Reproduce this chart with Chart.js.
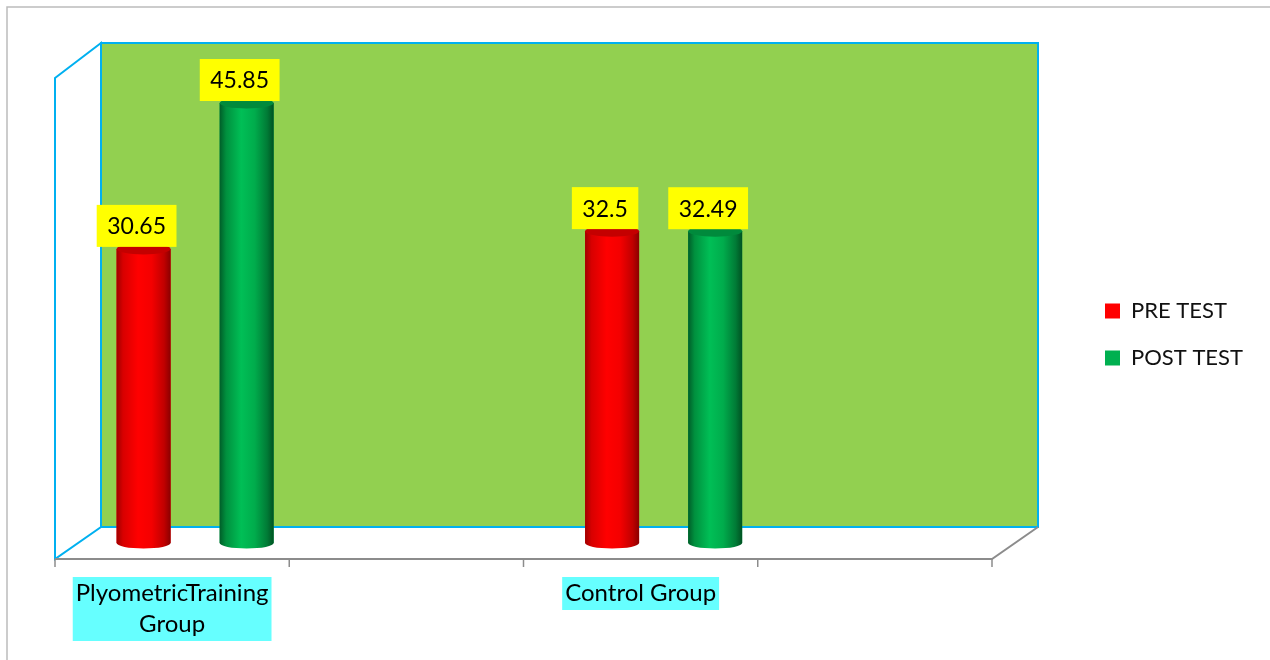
<!DOCTYPE html>
<html>
<head>
<meta charset="utf-8">
<title>Plyometric vs Control</title>
<script src="https://cdn.jsdelivr.net/npm/chart.js@4.4.0/dist/chart.umd.min.js"></script>
<style>
  html, body { margin: 0; padding: 0; background: #fff; }
  #wrap { width: 1270px; height: 660px; }
</style>
</head>
<body>
<div id="wrap"><canvas id="chart" width="1270" height="660"></canvas></div>
<script>
// chart data
const categories = [['PlyometricTraining', 'Group'], '', 'Control Group', ''];
const preTest = [30.65, null, 32.5, null];
const postTest = [45.85, null, 32.49, null];
const seriesNames = ['PRE TEST', 'POST TEST'];

const FONT = 'Lato, "Open Sans", sans-serif';
const DX = 23, DY = 16;   // half depth of the fake 3D box
const TICK_FONT = 24, TICK_LH = 31, TICK_PAD = 35;

const shades = {
    'PRE TEST': {
        stops: ['#a00000', '#d80000', '#ff0000', '#f40000', '#c00000', '#8a0000'],
        top: '#c40000'
    },
    'POST TEST': {
        stops: ['#005e29', '#00903e', '#00bf56', '#00ac4c', '#007b36', '#005222'],
        top: '#008a3c'
    }
};

// walls, floor, frame and label backgrounds
const boxPlugin = {
    id: 'box3d',
    beforeDraw(chart) {
        const { ctx, width, height } = chart;
        const xs = chart.scales.x;
        ctx.save();
        ctx.fillStyle = '#fff';
        ctx.fillRect(0, 0, width, height);
        ctx.strokeStyle = '#bcbcbc';
        ctx.lineWidth = 1.5;
        ctx.beginPath();
        ctx.moveTo(7, height);
        ctx.lineTo(7, 7);
        ctx.lineTo(width, 7);
        ctx.stroke();

        // cyan boxes behind category names (chart.js draws one per line, which hides multi-line text)
        ctx.font = TICK_FONT + 'px ' + FONT;
        ctx.fillStyle = '#66ffff';
        categories.forEach((lab, i) => {
            const lines = Array.isArray(lab) ? lab : [lab];
            if (lines.join('') === '') return;
            const w = Math.max(...lines.map(l => ctx.measureText(l).width)) + 6;
            const cx = xs.getPixelForTick(i) - DX;
            const top = xs.top + TICK_PAD - 1;
            ctx.fillRect(cx - w / 2, top, w, lines.length * TICK_LH + 2);
        });
        ctx.restore();
    },
    beforeDatasetsDraw(chart) {
        const { ctx, chartArea: a } = chart;
        const xs = chart.scales.x;
        const top = a.top - 1;
        ctx.save();
        ctx.lineWidth = 2;
        ctx.strokeStyle = '#00b0f0';

        // back wall
        ctx.fillStyle = '#92d050';
        ctx.fillRect(a.left + DX, top, a.right - a.left, a.bottom - DY - top);
        ctx.strokeRect(a.left + DX, top, a.right - a.left, a.bottom - DY - top);

        // side wall
        ctx.fillStyle = '#fff';
        ctx.beginPath();
        ctx.moveTo(a.left - DX, top + 2 * DY + 3);
        ctx.lineTo(a.left + DX, top);
        ctx.lineTo(a.left + DX, a.bottom - DY);
        ctx.lineTo(a.left - DX, a.bottom + DY);
        ctx.closePath();
        ctx.fill();
        ctx.stroke();

        // floor edges
        ctx.strokeStyle = '#8c8c8c';
        ctx.beginPath();
        ctx.moveTo(a.left - DX, a.bottom + DY);
        ctx.lineTo(a.right - DX, a.bottom + DY);
        ctx.lineTo(a.right + DX, a.bottom - DY);
        ctx.stroke();

        // category tick marks on the front edge
        ctx.lineWidth = 1.5;
        const n = categories.length;
        for (let k = 0; k <= n; k++) {
            const x = xs.left + k * (xs.width / n) - DX;
            ctx.beginPath();
            ctx.moveTo(x, a.bottom + DY);
            ctx.lineTo(x, a.bottom + DY + 8);
            ctx.stroke();
        }
        ctx.restore();
    },
    afterDatasetsDraw(chart) {
        const { ctx } = chart;
        chart.data.datasets.forEach((ds, di) => {
            const meta = chart.getDatasetMeta(di);
            const sh = shades[ds.label];
            meta.data.forEach((bar, i) => {
                const v = ds.data[i];
                if (v == null) return;
                const { x, y, base, width: w } = bar.getProps(['x', 'y', 'base', 'width'], true);
                const rx = w / 2, ry = 5.5;
                const g = ctx.createLinearGradient(x - rx, 0, x + rx, 0);
                const st = sh.stops;
                [0, 0.12, 0.4, 0.65, 0.88, 1].forEach((p, k) => g.addColorStop(p, st[k]));
                ctx.save();
                ctx.fillStyle = g;
                ctx.beginPath();
                ctx.moveTo(x - rx, y);
                ctx.lineTo(x - rx, base);
                ctx.ellipse(x, base, rx, ry, 0, Math.PI, 0, true);
                ctx.lineTo(x + rx, y);
                ctx.closePath();
                ctx.fill();
                ctx.fillStyle = sh.top;
                ctx.beginPath();
                ctx.ellipse(x, y, rx, ry, 0, 0, Math.PI * 2);
                ctx.fill();

                // value label
                const txt = String(v);
                ctx.font = '23px ' + FONT;
                const tw = ctx.measureText(txt).width;
                const bw = tw + 21, bh = 42;
                const cx = x - 7;
                const by = y - 2 - bh;
                ctx.fillStyle = '#ffff00';
                ctx.fillRect(cx - bw / 2, by, bw, bh);
                ctx.fillStyle = '#000';
                ctx.textAlign = 'center';
                ctx.textBaseline = 'middle';
                ctx.fillText(txt, cx, by + bh / 2 + 1);
                ctx.restore();
            });
        });
    }
};

new Chart(document.getElementById('chart'), {
    type: 'bar',
    data: {
        labels: categories,
        datasets: [
            { label: seriesNames[0], data: preTest, backgroundColor: '#ff0000' },
            { label: seriesNames[1], data: postTest, backgroundColor: '#00b050' }
        ]
    },
    options: {
        responsive: false,
        animation: false,
        categoryPercentage: 0.88,
        barPercentage: 0.524,
        layout: { padding: { top: 9, left: 78, right: 17, bottom: 0 } },
        plugins: {
            tooltip: { enabled: false },
            legend: {
                position: 'right',
                labels: {
                    boxWidth: 15,
                    boxHeight: 15,
                    padding: 25,
                    color: '#111',
                    font: { family: FONT, size: 22 }
                }
            }
        },
        scales: {
            x: {
                grid: { display: false, drawTicks: false },
                border: { display: false },
                ticks: {
                    autoSkip: false,
                    maxRotation: 0,
                    padding: TICK_PAD,
                    labelOffset: -DX,
                    color: '#000',
                    font: { family: FONT, size: TICK_FONT, lineHeight: TICK_LH + 'px' }
                },
                afterFit: s => { s.height = 117; }
            },
            // empty top strip, keeps the plot top where the picture has it
            x2: {
                position: 'top',
                grid: { display: false },
                border: { display: false },
                ticks: { display: false },
                afterFit: s => { s.height = 35; }
            },
            y: {
                display: false,
                min: 0,
                max: 52
            },
            y2: {
                position: 'right',
                grid: { display: false },
                border: { display: false },
                ticks: { display: false },
                afterFit: s => { s.width = 65; }
            }
        }
    },
    plugins: [boxPlugin]
});
</script>
</body>
</html>
